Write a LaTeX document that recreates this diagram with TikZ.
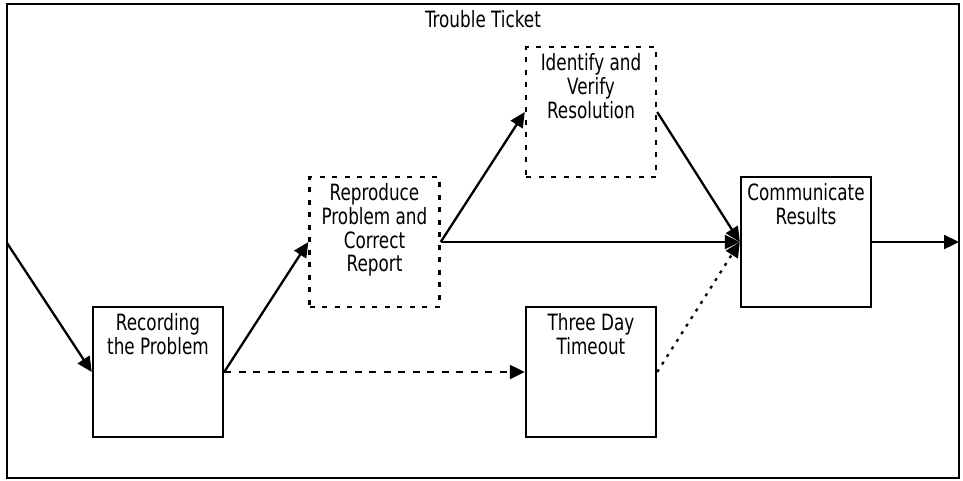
\documentclass[tikz,border=0pt]{standalone}
\usepackage{fontspec}
\setmainfont{DejaVu Sans Condensed}
\usetikzlibrary{arrows.meta}
\newcommand{\lbltext}[1]{\scalebox{1}[1.2]{\begin{tabular}{@{}c@{}}#1\end{tabular}}}
\tikzset{
  box/.style={draw=black, line width=2.4pt, minimum width=130pt, minimum height=130pt, inner sep=0pt, fill=white},
  dbox/.style={box, dash pattern=on 5pt off 7.5pt},
  conn/.style={line width=2.3pt, -{Triangle[length=15pt,width=14pt]}},
  dconn/.style={conn, dash pattern=on 7pt off 7.5pt},
  pconn/.style={conn, dash pattern=on 3pt off 6pt},
  tx/.style={anchor=north, inner sep=0pt, font=\fontsize{18.7}{19.6}\selectfont},
}
\begin{document}
\begin{tikzpicture}[x=1pt,y=-1pt]
\useasboundingbox (0,0) rectangle (963,480);
\draw[line width=2.6pt] (7,4) rectangle (959,478);
\node[tx, anchor=base] (title) at (483,28) {\lbltext{Trouble Ticket}};
\node[box]  (rec) at (158,372) {};
\node[dbox] (rep) at (374.5,242) {};
\node[dbox] (idv) at (591,112) {};
\node[box]  (tdt) at (591,372) {};
\node[box]  (com) at (806,242) {};
\node[tx] at ([yshift=-7.5pt]rec.north) {\lbltext{Recording\\the Problem}};
\node[tx] at ([yshift=-7.5pt]rep.north) {\lbltext{Reproduce\\Problem and\\Correct\\Report}};
\node[tx] at ([yshift=-7.5pt]idv.north) {\lbltext{Identify and\\Verify\\Resolution}};
\node[tx] at ([yshift=-7.5pt]tdt.north) {\lbltext{Three Day\\Timeout}};
\node[tx] at ([yshift=-7.5pt]com.north) {\lbltext{Communicate\\Results}};
\coordinate (in) at (7,243);
\coordinate (out) at (959,242);
\draw[conn] (in) -- (rec.west);
\draw[conn] (rec.east) -- (rep.west);
\draw[dconn] (rec.east) -- (tdt.west);
\draw[conn] (rep.east) -- (idv.west);
\draw[conn] (rep.east) -- (com.west);
\draw[conn] (idv.east) -- (com.west);
\draw[pconn] (tdt.east) -- (com.west);
\draw[conn] (com.east) -- (out);
\end{tikzpicture}
\end{document}
